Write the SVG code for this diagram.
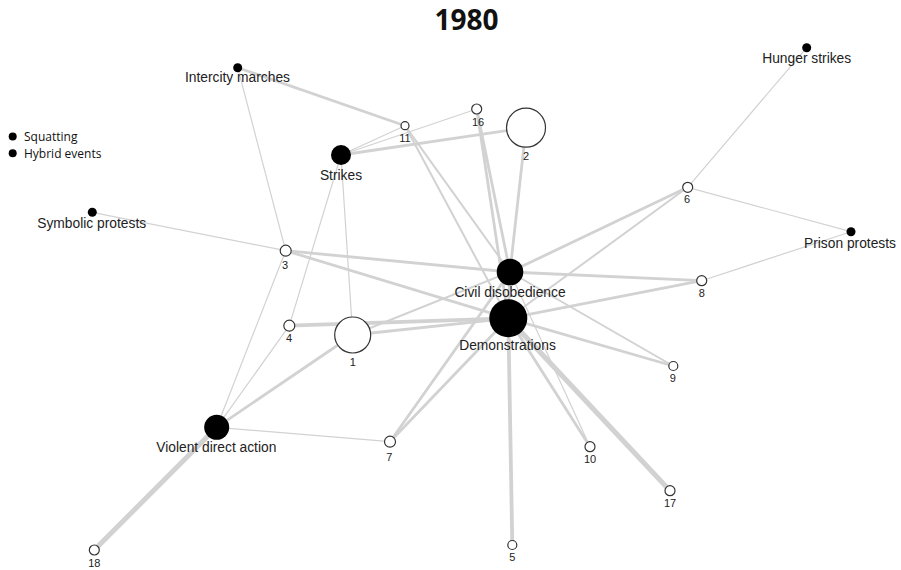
<svg xmlns="http://www.w3.org/2000/svg" width="901" height="570" viewBox="0 0 901 570">
<style>
.e{stroke:#d2d2d2;fill:none;stroke-linecap:round}
.w1{stroke-width:1.2}.w2{stroke-width:2}.w3{stroke-width:2.8}.w4{stroke-width:3.8}.w5{stroke-width:5}
.f{fill:#000}
.o{fill:#fff;stroke:#333;stroke-width:1.2}
.lb{font-family:"Liberation Sans",Arial,sans-serif;font-size:13.8px;fill:#222;text-anchor:middle}
.nb{font-family:"Liberation Sans",Arial,sans-serif;font-size:11px;fill:#222;text-anchor:middle}
.lg{font-family:"Open Sans","Liberation Sans",sans-serif;font-size:12px;fill:#111}
</style>
<rect width="901" height="570" fill="#fff"/>
<text x="466.5" y="30" font-family="'Open Sans','Liberation Sans',sans-serif" font-weight="bold" font-size="28" text-anchor="middle" fill="#111">1980</text>
<g id="legend">
<circle cx="12.7" cy="136.5" r="4" class="f"/><text x="24" y="141" class="lg">Squatting</text>
<circle cx="12.7" cy="153.3" r="4" class="f"/><text x="24" y="158" class="lg">Hybrid events</text>
</g>
<g id="edges">
<line class="e w3" x1="237.7" y1="67.7" x2="405" y2="125.7"/>
<line class="e w1" x1="237.7" y1="67.7" x2="285.7" y2="250.7"/>
<line class="e w1" x1="341" y1="155" x2="405" y2="125.7"/>
<line class="e w1" x1="341" y1="155" x2="476.7" y2="109"/>
<line class="e w3" x1="341" y1="155" x2="526" y2="127.7"/>
<line class="e w1" x1="341" y1="155" x2="289.3" y2="325.7"/>
<line class="e w1" x1="341" y1="155" x2="352.7" y2="335"/>
<line class="e w2" x1="405" y1="125.7" x2="510" y2="272"/>
<line class="e w2" x1="405" y1="125.7" x2="508.3" y2="318.3"/>
<line class="e w3" x1="476.7" y1="109" x2="510" y2="272"/>
<line class="e w3" x1="476.7" y1="109" x2="508.3" y2="318.3"/>
<line class="e w3" x1="526" y1="127.7" x2="510" y2="272"/>
<line class="e w1" x1="806.7" y1="47.7" x2="687.7" y2="187.3"/>
<line class="e w1" x1="687.7" y1="187.3" x2="851" y2="231.7"/>
<line class="e w3" x1="687.7" y1="187.3" x2="510" y2="272"/>
<line class="e w2" x1="687.7" y1="187.3" x2="508.3" y2="318.3"/>
<line class="e w1" x1="851" y1="231.7" x2="701.7" y2="280.7"/>
<line class="e w3" x1="701.7" y1="280.7" x2="510" y2="272"/>
<line class="e w3" x1="701.7" y1="280.7" x2="508.3" y2="318.3"/>
<line class="e w1" x1="92.3" y1="212.3" x2="285.7" y2="250.7"/>
<line class="e w3" x1="285.7" y1="250.7" x2="510" y2="272"/>
<line class="e w3" x1="285.7" y1="250.7" x2="508.3" y2="318.3"/>
<line class="e w1" x1="285.7" y1="250.7" x2="216.7" y2="427.3"/>
<line class="e w4" x1="289.3" y1="325.7" x2="508.3" y2="318.3"/>
<line class="e w1" x1="289.3" y1="325.7" x2="216.7" y2="427.3"/>
<line class="e w2" x1="352.7" y1="335" x2="510" y2="272"/>
<line class="e w3" x1="352.7" y1="335" x2="508.3" y2="318.3"/>
<line class="e w3" x1="352.7" y1="335" x2="216.7" y2="427.3"/>
<line class="e w1" x1="216.7" y1="427.3" x2="390" y2="441.7"/>
<line class="e w5" x1="216.7" y1="427.3" x2="94.3" y2="550"/>
<line class="e w3" x1="390" y1="441.7" x2="510" y2="272"/>
<line class="e w3" x1="390" y1="441.7" x2="508.3" y2="318.3"/>
<line class="e w2" x1="510" y1="272" x2="673.3" y2="366"/>
<line class="e w3" x1="508.3" y1="318.3" x2="673.3" y2="366"/>
<line class="e w3" x1="508.3" y1="318.3" x2="590" y2="446.7"/>
<line class="e w1" x1="510" y1="272" x2="590" y2="446.7"/>
<line class="e w5" x1="508.3" y1="318.3" x2="670" y2="490.7"/>
<line class="e w4" x1="508.3" y1="318.3" x2="512.3" y2="545"/>
<line class="e w3" x1="510" y1="272" x2="508.3" y2="318.3"/>
</g>
<g id="n-intercity"><circle cx="237.7" cy="67.7" r="4.5" class="f"/><text x="237.5" y="82" class="lb">Intercity marches</text></g>
<g id="n-hunger"><circle cx="806.7" cy="47.7" r="4.5" class="f"/><text x="806.7" y="63" class="lb">Hunger strikes</text></g>
<g id="n-strikes"><circle cx="341" cy="155" r="10" class="f"/><text x="341" y="180" class="lb">Strikes</text></g>
<g id="n-11"><circle cx="405" cy="125.7" r="4" class="o"/><text x="405" y="142" class="nb">11</text></g>
<g id="n-16"><circle cx="476.7" cy="109" r="5" class="o"/><text x="478" y="126" class="nb">16</text></g>
<g id="n-2"><circle cx="526" cy="127.7" r="19.5" class="o"/><text x="526" y="160" class="nb">2</text></g>
<g id="n-6"><circle cx="687.7" cy="187.3" r="5" class="o"/><text x="687" y="203" class="nb">6</text></g>
<g id="n-symbolic"><circle cx="92.3" cy="212.3" r="4.5" class="f"/><text x="91.7" y="228" class="lb">Symbolic protests</text></g>
<g id="n-3"><circle cx="285.7" cy="250.7" r="5.5" class="o"/><text x="285" y="269" class="nb">3</text></g>
<g id="n-prison"><circle cx="851" cy="231.7" r="4.5" class="f"/><text x="850" y="248" class="lb">Prison protests</text></g>
<g id="n-8"><circle cx="701.7" cy="280.7" r="5" class="o"/><text x="701.7" y="297" class="nb">8</text></g>
<g id="n-4"><circle cx="289.3" cy="325.7" r="5.5" class="o"/><text x="289" y="342" class="nb">4</text></g>
<g id="n-1"><circle cx="352.7" cy="335" r="18" class="o"/><text x="352.7" y="365.5" class="nb">1</text></g>
<g id="n-civil"><circle cx="510" cy="272" r="13.3" class="f"/><text x="510" y="297" class="lb">Civil disobedience</text></g>
<g id="n-demonstrations"><circle cx="508.3" cy="318.3" r="19" class="f"/><text x="507.5" y="350" class="lb">Demonstrations</text></g>
<g id="n-9"><circle cx="673.3" cy="366" r="4.5" class="o"/><text x="672.7" y="382" class="nb">9</text></g>
<g id="n-violent"><circle cx="216.7" cy="427.3" r="12.5" class="f"/><text x="216.3" y="452" class="lb">Violent direct action</text></g>
<g id="n-7"><circle cx="390" cy="441.7" r="5.5" class="o"/><text x="389.3" y="461" class="nb">7</text></g>
<g id="n-10"><circle cx="590" cy="446.7" r="5" class="o"/><text x="590" y="462.5" class="nb">10</text></g>
<g id="n-17"><circle cx="670" cy="490.7" r="5" class="o"/><text x="670" y="507" class="nb">17</text></g>
<g id="n-5"><circle cx="512.3" cy="545" r="4.5" class="o"/><text x="512.3" y="561" class="nb">5</text></g>
<g id="n-18"><circle cx="94.3" cy="550" r="5" class="o"/><text x="94.3" y="567" class="nb">18</text></g>
</svg>
